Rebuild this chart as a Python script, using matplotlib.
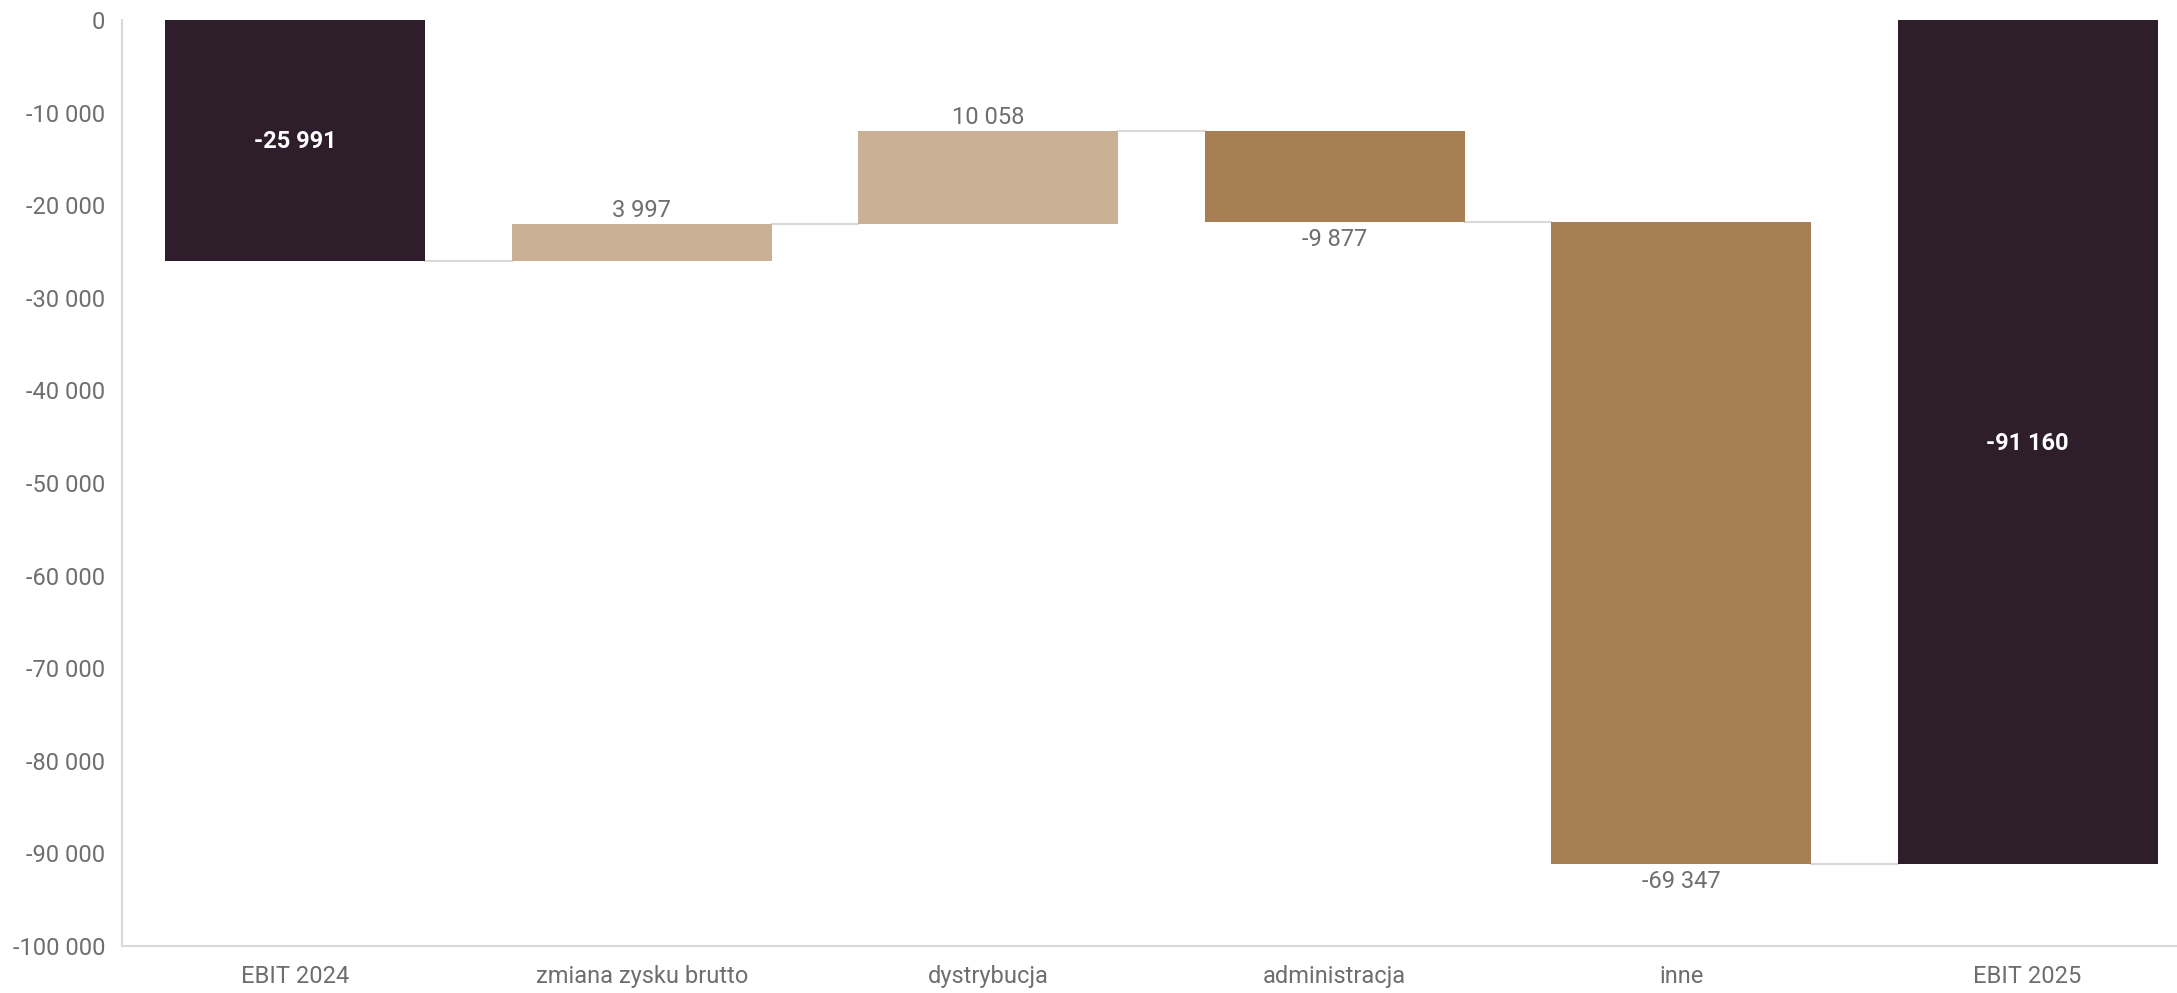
import matplotlib.pyplot as plt
import numpy as np

plt.rcParams['font.family'] = ['Roboto', 'DejaVu Sans']

# Dane do wykresu kaskadowego (EBIT)
kategorie = ['EBIT 2024', 'zmiana zysku brutto', 'dystrybucja', 'administracja', 'inne', 'EBIT 2025']
wartosci = [-25991, 3997, 10058, -9877, -69347, -91160]
czy_suma = [True, False, False, False, False, True]

kolor_suma = '#2e1d2b'
kolor_plus = '#cab195'
kolor_minus = '#a68053'
kolor_tekst = '#6e6e6e'
kolor_linia = '#d9d9d9'


def fmt(v):
    return f"{v:,.0f}".replace(",", " ")


fig = plt.figure(figsize=(21.77, 9.93), dpi=100)
ax = fig.add_axes([122 / 2177, 47 / 993, 1 - 122 / 2177, 926 / 993])

szer = 0.75
x = np.arange(len(kategorie))
poziom = 0.0
krawedzie = []
for i, (v, s) in enumerate(zip(wartosci, czy_suma)):
    if s:
        dol, gora = v, 0
        kolor = kolor_suma
        poziom = v
    else:
        start = poziom
        poziom = start + v
        dol, gora = min(start, poziom), max(start, poziom)
        kolor = kolor_plus if v > 0 else kolor_minus
    ax.bar(x[i], gora - dol, bottom=dol, width=szer, color=kolor, zorder=3)
    krawedzie.append(poziom)

    if s:
        ax.annotate(fmt(v), (x[i], (gora + dol) / 2), xytext=(0, -1), textcoords='offset points',
                    ha='center', va='center', color='white', fontsize=17,
                    fontweight='bold', zorder=4)
    elif v > 0:
        ax.annotate(fmt(v), (x[i], gora), xytext=(0, 1), textcoords='offset points',
                    ha='center', va='bottom', color=kolor_tekst, fontsize=17)
    else:
        ax.annotate(fmt(v), (x[i], dol), xytext=(0, -4.5), textcoords='offset points',
                    ha='center', va='top', color=kolor_tekst, fontsize=17)

# Linie laczace kolejne slupki
for i in range(len(kategorie) - 1):
    ax.plot([x[i] + szer / 2, x[i + 1] - szer / 2], [krawedzie[i], krawedzie[i]],
            color=kolor_linia, lw=1.5, zorder=2)

ax.set_xlim(-0.5, 5.431)
ax.set_ylim(-100000, 0)
ax.set_yticks(np.arange(-100000, 1, 10000))
ax.set_yticklabels([fmt(t) for t in np.arange(-100000, 1, 10000)])
ax.set_xticks(x)
ax.set_xticklabels(kategorie)
ax.tick_params(axis='both', length=0, labelsize=17, colors=kolor_tekst)
ax.tick_params(axis='x', pad=14)
ax.tick_params(axis='y', pad=12)

for side in ['top', 'right']:
    ax.spines[side].set_visible(False)
for side in ['left', 'bottom']:
    ax.spines[side].set_color(kolor_linia)
    ax.spines[side].set_linewidth(1.5)

fig.savefig('out.png', dpi=100)
